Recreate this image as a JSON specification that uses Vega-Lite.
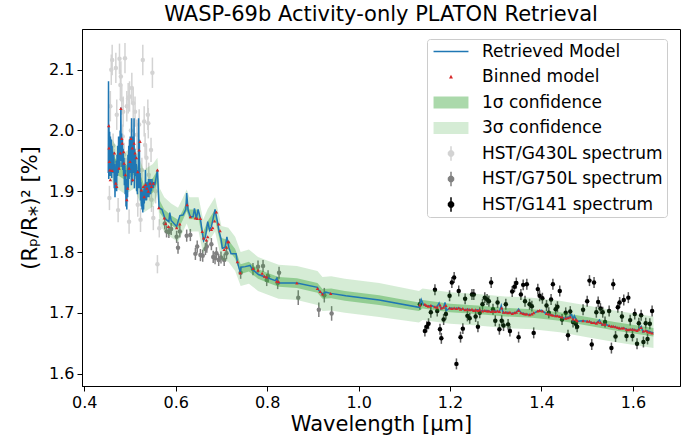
{
  "$schema": "https://vega.github.io/schema/vega-lite/v6.json",
  "width": 598,
  "height": 357,
  "autosize": {"type": "none"},
  "padding": {"left": 82, "top": 29, "right": 13, "bottom": 51},
  "title": {"text": "WASP-69b Activity-only PLATON Retrieval", "fontSize": 21, "font": "DejaVu Sans", "fontWeight": "normal", "anchor": "middle", "frame": "group", "baseline": "bottom", "offset": 3, "dy": 20, "color": "black"},
  "config": {
    "font": "DejaVu Sans",
    "view": {"stroke": "black", "strokeWidth": 1},
    "axis": {"grid": false, "domainColor": "black", "tickColor": "black", "labelColor": "black", "titleColor": "black", "labelFontSize": 16, "titleFontSize": 21, "titleFontWeight": "normal", "labelFont": "DejaVu Sans", "titleFont": "DejaVu Sans", "tickSize": 5, "labelPadding": 3, "domainWidth": 1, "tickWidth": 1}
  },
  "datasets": {
    "g430": [
      {"w":0.455,"y":1.889,"e":0.02},{"w":0.457,"y":2.040,"e":0.025},{"w":0.459,"y":2.100,"e":0.025},{"w":0.461,"y":2.116,"e":0.025},
      {"w":0.463,"y":1.975,"e":0.02},{"w":0.465,"y":1.950,"e":0.02},{"w":0.469,"y":2.103,"e":0.025},{"w":0.471,"y":2.026,"e":0.025},
      {"w":0.474,"y":1.869,"e":0.02},{"w":0.477,"y":2.118,"e":0.025},{"w":0.479,"y":2.075,"e":0.025},{"w":0.480,"y":2.089,"e":0.025},
      {"w":0.482,"y":2.051,"e":0.025},{"w":0.484,"y":1.990,"e":0.02},{"w":0.485,"y":2.031,"e":0.025},{"w":0.487,"y":1.960,"e":0.02},
      {"w":0.489,"y":2.119,"e":0.025},{"w":0.491,"y":1.935,"e":0.02},{"w":0.493,"y":2.040,"e":0.025},{"w":0.496,"y":2.053,"e":0.025},
      {"w":0.498,"y":1.850,"e":0.02},{"w":0.499,"y":2.056,"e":0.025},{"w":0.502,"y":2.000,"e":0.02},{"w":0.504,"y":2.070,"e":0.025},
      {"w":0.507,"y":2.045,"e":0.025},{"w":0.509,"y":1.960,"e":0.02},{"w":0.511,"y":2.031,"e":0.025},{"w":0.513,"y":1.940,"e":0.02},
      {"w":0.515,"y":1.993,"e":0.025},{"w":0.517,"y":1.878,"e":0.02},{"w":0.520,"y":2.010,"e":0.025},{"w":0.523,"y":1.853,"e":0.02},
      {"w":0.526,"y":1.935,"e":0.02},{"w":0.528,"y":2.116,"e":0.025},{"w":0.531,"y":2.015,"e":0.025},{"w":0.533,"y":1.976,"e":0.02},
      {"w":0.536,"y":1.955,"e":0.02},{"w":0.539,"y":2.026,"e":0.025},{"w":0.540,"y":2.012,"e":0.025},{"w":0.541,"y":1.927,"e":0.02},
      {"w":0.543,"y":1.905,"e":0.02},{"w":0.546,"y":1.968,"e":0.02},{"w":0.547,"y":1.886,"e":0.02},{"w":0.549,"y":2.095,"e":0.025},
      {"w":0.551,"y":1.856,"e":0.02},{"w":0.556,"y":1.900,"e":0.02},{"w":0.560,"y":1.780,"e":0.015},{"w":0.564,"y":1.839,"e":0.015}
    ],
    "g750": [
      {"w":0.576,"y":1.847,"e":0.01},{"w":0.580,"y":1.834,"e":0.01},{"w":0.585,"y":1.833,"e":0.01},{"w":0.590,"y":1.838,"e":0.01},
      {"w":0.602,"y":1.825,"e":0.01},{"w":0.605,"y":1.807,"e":0.01},{"w":0.609,"y":1.834,"e":0.01},{"w":0.624,"y":1.827,"e":0.01},
      {"w":0.632,"y":1.828,"e":0.01},{"w":0.643,"y":1.797,"e":0.01},{"w":0.647,"y":1.809,"e":0.01},{"w":0.654,"y":1.795,"e":0.01},
      {"w":0.659,"y":1.794,"e":0.01},{"w":0.665,"y":1.805,"e":0.01},{"w":0.668,"y":1.809,"e":0.01},{"w":0.678,"y":1.813,"e":0.01},
      {"w":0.682,"y":1.792,"e":0.01},{"w":0.686,"y":1.790,"e":0.01},{"w":0.689,"y":1.798,"e":0.01},{"w":0.694,"y":1.787,"e":0.01},
      {"w":0.699,"y":1.791,"e":0.01},{"w":0.706,"y":1.787,"e":0.01},{"w":0.711,"y":1.798,"e":0.01},{"w":0.742,"y":1.766,"e":0.01},
      {"w":0.769,"y":1.772,"e":0.01},{"w":0.780,"y":1.776,"e":0.01},{"w":0.791,"y":1.777,"e":0.01},{"w":0.799,"y":1.754,"e":0.01},
      {"w":0.802,"y":1.760,"e":0.01},{"w":0.823,"y":1.749,"e":0.01},{"w":0.826,"y":1.766,"e":0.01},{"w":0.868,"y":1.725,"e":0.012},
      {"w":0.913,"y":1.705,"e":0.012},{"w":0.925,"y":1.729,"e":0.012},{"w":0.941,"y":1.699,"e":0.012}
    ],
    "g141": [
      {"w":1.134,"y":1.714,"e":0.009,"m":1.713},{"w":1.145,"y":1.670,"e":0.009,"m":1.714},{"w":1.149,"y":1.677,"e":0.009,"m":1.712},
      {"w":1.153,"y":1.682,"e":0.009,"m":1.711},{"w":1.158,"y":1.701,"e":0.009,"m":1.712},{"w":1.167,"y":1.738,"e":0.009,"m":1.710},
      {"w":1.172,"y":1.703,"e":0.009,"m":1.709},{"w":1.178,"y":1.673,"e":0.009,"m":1.713},{"w":1.181,"y":1.658,"e":0.009,"m":1.708},
      {"w":1.186,"y":1.689,"e":0.009,"m":1.709},{"w":1.191,"y":1.698,"e":0.009,"m":1.712},{"w":1.199,"y":1.728,"e":0.009,"m":1.708},
      {"w":1.204,"y":1.750,"e":0.009,"m":1.707},{"w":1.209,"y":1.758,"e":0.009,"m":1.708},{"w":1.214,"y":1.616,"e":0.009,"m":1.707},
      {"w":1.219,"y":1.736,"e":0.009,"m":1.708},{"w":1.223,"y":1.660,"e":0.009,"m":1.706},{"w":1.228,"y":1.674,"e":0.009,"m":1.707},
      {"w":1.233,"y":1.723,"e":0.009,"m":1.705},{"w":1.238,"y":1.695,"e":0.009,"m":1.706},{"w":1.243,"y":1.691,"e":0.009,"m":1.705},
      {"w":1.248,"y":1.730,"e":0.009,"m":1.706},{"w":1.252,"y":1.730,"e":0.009,"m":1.704},{"w":1.256,"y":1.694,"e":0.009,"m":1.705},
      {"w":1.261,"y":1.677,"e":0.009,"m":1.704},{"w":1.265,"y":1.700,"e":0.009,"m":1.705},{"w":1.271,"y":1.714,"e":0.009,"m":1.703},
      {"w":1.276,"y":1.725,"e":0.009,"m":1.704},{"w":1.281,"y":1.722,"e":0.009,"m":1.703},{"w":1.285,"y":1.719,"e":0.009,"m":1.703},
      {"w":1.290,"y":1.750,"e":0.009,"m":1.702},{"w":1.294,"y":1.706,"e":0.009,"m":1.703},{"w":1.299,"y":1.687,"e":0.009,"m":1.702},
      {"w":1.304,"y":1.717,"e":0.009,"m":1.703},{"w":1.308,"y":1.673,"e":0.009,"m":1.702},{"w":1.313,"y":1.687,"e":0.009,"m":1.708},
      {"w":1.317,"y":1.679,"e":0.009,"m":1.701},{"w":1.322,"y":1.714,"e":0.009,"m":1.701},{"w":1.327,"y":1.681,"e":0.009,"m":1.700},
      {"w":1.331,"y":1.670,"e":0.009,"m":1.701},{"w":1.336,"y":1.735,"e":0.009,"m":1.699},{"w":1.341,"y":1.743,"e":0.009,"m":1.700},
      {"w":1.345,"y":1.749,"e":0.009,"m":1.701},{"w":1.350,"y":1.660,"e":0.009,"m":1.704},{"w":1.355,"y":1.730,"e":0.009,"m":1.700},
      {"w":1.360,"y":1.746,"e":0.009,"m":1.699},{"w":1.364,"y":1.719,"e":0.009,"m":1.698},{"w":1.368,"y":1.747,"e":0.009,"m":1.698},
      {"w":1.374,"y":1.714,"e":0.009,"m":1.697},{"w":1.379,"y":1.711,"e":0.009,"m":1.698},{"w":1.383,"y":1.667,"e":0.009,"m":1.700},
      {"w":1.392,"y":1.739,"e":0.009,"m":1.703},{"w":1.396,"y":1.728,"e":0.009,"m":1.704},{"w":1.402,"y":1.724,"e":0.009,"m":1.703},
      {"w":1.411,"y":1.712,"e":0.009,"m":1.699},{"w":1.416,"y":1.700,"e":0.009,"m":1.698},{"w":1.421,"y":1.722,"e":0.009,"m":1.697},
      {"w":1.425,"y":1.747,"e":0.009,"m":1.696},{"w":1.431,"y":1.706,"e":0.009,"m":1.695},{"w":1.435,"y":1.710,"e":0.009,"m":1.695},
      {"w":1.440,"y":1.736,"e":0.009,"m":1.694},{"w":1.445,"y":1.689,"e":0.009,"m":1.693},{"w":1.453,"y":1.700,"e":0.009,"m":1.691},
      {"w":1.458,"y":1.663,"e":0.009,"m":1.692},{"w":1.463,"y":1.702,"e":0.009,"m":1.693},{"w":1.469,"y":1.685,"e":0.009,"m":1.690},
      {"w":1.475,"y":1.682,"e":0.009,"m":1.689},{"w":1.478,"y":1.677,"e":0.009,"m":1.687},{"w":1.491,"y":1.705,"e":0.009,"m":1.687},
      {"w":1.500,"y":1.719,"e":0.009,"m":1.686},{"w":1.505,"y":1.753,"e":0.009,"m":1.686},{"w":1.510,"y":1.648,"e":0.009,"m":1.684},
      {"w":1.515,"y":1.750,"e":0.009,"m":1.684},{"w":1.520,"y":1.701,"e":0.009,"m":1.683},{"w":1.524,"y":1.718,"e":0.009,"m":1.685},
      {"w":1.529,"y":1.707,"e":0.009,"m":1.684},{"w":1.534,"y":1.701,"e":0.009,"m":1.681},{"w":1.539,"y":1.685,"e":0.009,"m":1.681},
      {"w":1.548,"y":1.703,"e":0.009,"m":1.679},{"w":1.553,"y":1.642,"e":0.009,"m":1.678},{"w":1.557,"y":1.747,"e":0.009,"m":1.678},
      {"w":1.562,"y":1.661,"e":0.009,"m":1.677},{"w":1.567,"y":1.709,"e":0.009,"m":1.676},{"w":1.571,"y":1.717,"e":0.009,"m":1.675},
      {"w":1.576,"y":1.694,"e":0.009,"m":1.675},{"w":1.580,"y":1.721,"e":0.009,"m":1.675},{"w":1.586,"y":1.662,"e":0.009,"m":1.673},
      {"w":1.590,"y":1.725,"e":0.009,"m":1.672},{"w":1.594,"y":1.688,"e":0.009,"m":1.673},{"w":1.599,"y":1.662,"e":0.009,"m":1.673},
      {"w":1.604,"y":1.698,"e":0.009,"m":1.672},{"w":1.609,"y":1.649,"e":0.009,"m":1.671},{"w":1.613,"y":1.683,"e":0.009,"m":1.673},
      {"w":1.618,"y":1.696,"e":0.009,"m":1.676},{"w":1.623,"y":1.652,"e":0.009,"m":1.670},{"w":1.628,"y":1.683,"e":0.009,"m":1.671},
      {"w":1.632,"y":1.657,"e":0.009,"m":1.669},{"w":1.637,"y":1.682,"e":0.009,"m":1.668},{"w":1.642,"y":1.703,"e":0.009,"m":1.667}
    ],
    "bands": [
      {"w":0.452,"lo3":1.925,"lo1":1.948,"hi1":1.972,"hi3":1.995},{"w":0.47,"lo3":1.905,"lo1":1.928,"hi1":1.952,"hi3":1.975},
      {"w":0.49,"lo3":1.895,"lo1":1.918,"hi1":1.942,"hi3":1.965},{"w":0.51,"lo3":1.905,"lo1":1.928,"hi1":1.952,"hi3":1.975},
      {"w":0.53,"lo3":1.865,"lo1":1.888,"hi1":1.912,"hi3":1.935},{"w":0.55,"lo3":1.875,"lo1":1.898,"hi1":1.922,"hi3":1.945},
      {"w":0.56,"lo3":1.895,"lo1":1.915,"hi1":1.935,"hi3":1.955},{"w":0.565,"lo3":1.845,"lo1":1.865,"hi1":1.885,"hi3":1.905},
      {"w":0.575,"lo3":1.834,"lo1":1.854,"hi1":1.870,"hi3":1.890},{"w":0.59,"lo3":1.824,"lo1":1.844,"hi1":1.860,"hi3":1.880},
      {"w":0.605,"lo3":1.817,"lo1":1.837,"hi1":1.853,"hi3":1.873},{"w":0.615,"lo3":1.832,"lo1":1.852,"hi1":1.868,"hi3":1.888},
      {"w":0.624,"lo3":1.847,"lo1":1.867,"hi1":1.883,"hi3":1.903},{"w":0.63,"lo3":1.834,"lo1":1.854,"hi1":1.870,"hi3":1.890},
      {"w":0.64,"lo3":1.834,"lo1":1.854,"hi1":1.870,"hi3":1.890},{"w":0.65,"lo3":1.834,"lo1":1.854,"hi1":1.870,"hi3":1.890},
      {"w":0.66,"lo3":1.797,"lo1":1.817,"hi1":1.833,"hi3":1.853},{"w":0.67,"lo3":1.815,"lo1":1.835,"hi1":1.851,"hi3":1.871},
      {"w":0.686,"lo3":1.834,"lo1":1.854,"hi1":1.870,"hi3":1.890},{"w":0.70,"lo3":1.787,"lo1":1.807,"hi1":1.823,"hi3":1.843},
      {"w":0.715,"lo3":1.784,"lo1":1.804,"hi1":1.820,"hi3":1.840},{"w":0.73,"lo3":1.769,"lo1":1.789,"hi1":1.805,"hi3":1.825},
      {"w":0.742,"lo3":1.744,"lo1":1.764,"hi1":1.780,"hi3":1.800},{"w":0.76,"lo3":1.748,"lo1":1.768,"hi1":1.784,"hi3":1.804},
      {"w":0.78,"lo3":1.736,"lo1":1.756,"hi1":1.772,"hi3":1.792},{"w":0.80,"lo3":1.730,"lo1":1.750,"hi1":1.766,"hi3":1.786},
      {"w":0.825,"lo3":1.723,"lo1":1.743,"hi1":1.759,"hi3":1.779},{"w":0.865,"lo3":1.721,"lo1":1.741,"hi1":1.757,"hi3":1.777},
      {"w":0.91,"lo3":1.713,"lo1":1.733,"hi1":1.749,"hi3":1.769},{"w":0.921,"lo3":1.703,"lo1":1.723,"hi1":1.739,"hi3":1.759},
      {"w":0.94,"lo3":1.704,"lo1":1.724,"hi1":1.740,"hi3":1.760},{"w":0.97,"lo3":1.700,"lo1":1.720,"hi1":1.736,"hi3":1.756},
      {"w":1.045,"lo3":1.693,"lo1":1.713,"hi1":1.729,"hi3":1.749},{"w":1.132,"lo3":1.684,"lo1":1.703,"hi1":1.717,"hi3":1.736},
      {"w":1.14,"lo3":1.688,"lo1":1.707,"hi1":1.721,"hi3":1.740},{"w":1.20,"lo3":1.682,"lo1":1.701,"hi1":1.715,"hi3":1.734},
      {"w":1.26,"lo3":1.679,"lo1":1.698,"hi1":1.712,"hi3":1.731},{"w":1.32,"lo3":1.675,"lo1":1.694,"hi1":1.708,"hi3":1.727},
      {"w":1.38,"lo3":1.673,"lo1":1.692,"hi1":1.706,"hi3":1.725},{"w":1.44,"lo3":1.668,"lo1":1.687,"hi1":1.701,"hi3":1.720},
      {"w":1.50,"lo3":1.660,"lo1":1.679,"hi1":1.693,"hi3":1.712},{"w":1.56,"lo3":1.652,"lo1":1.671,"hi1":1.685,"hi3":1.704},
      {"w":1.62,"lo3":1.645,"lo1":1.664,"hi1":1.678,"hi3":1.697},{"w":1.645,"lo3":1.642,"lo1":1.661,"hi1":1.675,"hi3":1.694}
    ],
    "model": [
      {"w":0.4525,"y":1.93},{"w":0.4530,"y":2.081},{"w":0.4535,"y":1.92},{"w":0.4540,"y":2.01},{"w":0.4550,"y":1.935},{"w":0.4555,"y":1.998},
      {"w":0.4565,"y":1.925},{"w":0.4572,"y":1.99},{"w":0.4580,"y":1.93},{"w":0.4590,"y":1.985},{"w":0.4600,"y":1.922},{"w":0.4608,"y":1.975},
      {"w":0.4618,"y":1.94},{"w":0.4626,"y":1.965},{"w":0.4635,"y":1.93},{"w":0.4645,"y":1.96},{"w":0.4655,"y":1.905},{"w":0.4662,"y":1.945},
      {"w":0.4672,"y":1.89},{"w":0.4680,"y":1.94},{"w":0.4690,"y":1.905},{"w":0.4698,"y":1.95},{"w":0.4708,"y":1.90},{"w":0.4716,"y":1.96},
      {"w":0.4725,"y":1.925},{"w":0.4733,"y":1.975},{"w":0.4742,"y":1.93},{"w":0.4750,"y":1.99},{"w":0.4760,"y":1.935},{"w":0.4768,"y":1.985},
      {"w":0.4776,"y":1.94},{"w":0.4784,"y":2.000},{"w":0.4792,"y":1.95},{"w":0.4800,"y":2.038},{"w":0.4808,"y":1.955},{"w":0.4816,"y":1.995},
      {"w":0.4825,"y":1.94},{"w":0.4833,"y":1.985},{"w":0.4842,"y":1.935},{"w":0.4850,"y":1.97},{"w":0.4860,"y":1.925},{"w":0.4868,"y":1.955},
      {"w":0.4877,"y":1.91},{"w":0.4885,"y":1.945},{"w":0.4895,"y":1.895},{"w":0.4903,"y":1.935},{"w":0.4912,"y":1.875},{"w":0.4920,"y":1.92},
      {"w":0.4930,"y":1.87},{"w":0.4938,"y":1.915},{"w":0.4947,"y":1.89},{"w":0.4955,"y":1.96},{"w":0.4963,"y":1.905},{"w":0.4972,"y":1.975},
      {"w":0.4980,"y":1.92},{"w":0.4988,"y":1.985},{"w":0.4997,"y":1.93},{"w":0.5005,"y":1.99},{"w":0.5013,"y":1.94},{"w":0.5021,"y":1.98},
      {"w":0.5030,"y":1.91},{"w":0.5038,"y":2.02},{"w":0.5046,"y":1.915},{"w":0.5055,"y":1.99},{"w":0.5063,"y":1.93},{"w":0.5071,"y":1.985},
      {"w":0.5080,"y":1.94},{"w":0.5088,"y":2.02},{"w":0.5096,"y":1.905},{"w":0.5105,"y":1.97},{"w":0.5113,"y":1.93},{"w":0.5121,"y":1.96},
      {"w":0.5130,"y":1.925},{"w":0.5138,"y":1.945},{"w":0.5147,"y":1.90},{"w":0.5155,"y":1.935},{"w":0.5163,"y":1.895},{"w":0.5172,"y":1.93},
      {"w":0.5180,"y":1.905},{"w":0.5188,"y":2.02},{"w":0.5197,"y":1.92},{"w":0.5205,"y":1.985},{"w":0.5213,"y":1.905},{"w":0.5222,"y":1.93},
      {"w":0.5230,"y":1.885},{"w":0.5238,"y":1.915},{"w":0.5247,"y":1.875},{"w":0.5255,"y":1.905},{"w":0.5263,"y":1.87},{"w":0.5272,"y":1.90},
      {"w":0.5280,"y":1.865},{"w":0.5288,"y":1.895},{"w":0.5297,"y":1.87},{"w":0.5305,"y":1.905},{"w":0.5313,"y":1.88},{"w":0.5322,"y":1.91},
      {"w":0.5330,"y":1.885},{"w":0.5338,"y":1.935},{"w":0.5347,"y":1.89},{"w":0.5355,"y":1.915},{"w":0.5363,"y":1.885},{"w":0.5372,"y":1.91},
      {"w":0.5380,"y":1.89},{"w":0.5388,"y":1.915},{"w":0.5397,"y":1.895},{"w":0.5405,"y":1.92},{"w":0.5413,"y":1.89},{"w":0.5422,"y":1.915},
      {"w":0.5430,"y":1.895},{"w":0.5440,"y":1.92},{"w":0.5450,"y":1.895},{"w":0.5460,"y":1.915},{"w":0.5470,"y":1.90},{"w":0.5480,"y":1.92},
      {"w":0.5490,"y":1.905},{"w":0.5500,"y":1.915},{"w":0.5510,"y":1.905},{"w":0.5520,"y":1.915},{"w":0.5540,"y":1.91},{"w":0.5560,"y":1.918},
      {"w":0.5600,"y":1.935},{"w":0.5635,"y":1.873},{"w":0.5700,"y":1.870},{"w":0.5760,"y":1.856},{"w":0.5800,"y":1.853},{"w":0.5850,"y":1.850},
      {"w":0.5870,"y":1.865},{"w":0.5900,"y":1.852},{"w":0.6020,"y":1.842},{"w":0.6090,"y":1.860},{"w":0.6160,"y":1.861},{"w":0.6220,"y":1.870},
      {"w":0.6240,"y":1.897},{"w":0.6270,"y":1.869},{"w":0.6320,"y":1.858},{"w":0.6380,"y":1.858},{"w":0.6410,"y":1.872},{"w":0.6450,"y":1.855},
      {"w":0.6490,"y":1.870},{"w":0.6540,"y":1.855},{"w":0.6580,"y":1.833},{"w":0.6610,"y":1.819},{"w":0.6650,"y":1.825},{"w":0.6700,"y":1.850},
      {"w":0.6740,"y":1.836},{"w":0.6780,"y":1.842},{"w":0.6810,"y":1.852},{"w":0.6860,"y":1.870},{"w":0.6920,"y":1.847},{"w":0.6950,"y":1.833},
      {"w":0.6990,"y":1.822},{"w":0.7020,"y":1.806},{"w":0.7080,"y":1.808},{"w":0.7120,"y":1.825},{"w":0.7160,"y":1.808},{"w":0.7210,"y":1.797},
      {"w":0.7320,"y":1.797},{"w":0.7350,"y":1.783},{"w":0.7410,"y":1.767},{"w":0.7430,"y":1.775},{"w":0.7520,"y":1.776},{"w":0.7630,"y":1.778},
      {"w":0.7670,"y":1.772},{"w":0.7810,"y":1.763},{"w":0.7990,"y":1.758},{"w":0.8180,"y":1.753},{"w":0.8210,"y":1.757},{"w":0.8250,"y":1.749},
      {"w":0.8650,"y":1.749},{"w":0.9100,"y":1.742},{"w":0.9130,"y":1.737},{"w":0.9210,"y":1.731},{"w":0.9280,"y":1.734},{"w":0.9390,"y":1.732},
      {"w":0.9720,"y":1.728},{"w":1.0450,"y":1.721},{"w":1.1320,"y":1.709},{"w":1.1370,"y":1.722},{"w":1.1420,"y":1.713},{"w":1.1500,"y":1.711},
      {"w":1.1600,"y":1.712},{"w":1.1700,"y":1.708},{"w":1.1760,"y":1.716},{"w":1.1800,"y":1.706},{"w":1.1860,"y":1.709},{"w":1.1890,"y":1.717},
      {"w":1.1920,"y":1.704},{"w":1.2000,"y":1.708},{"w":1.2100,"y":1.707},{"w":1.2200,"y":1.708},{"w":1.2300,"y":1.705},{"w":1.2400,"y":1.706},
      {"w":1.2500,"y":1.704},{"w":1.2600,"y":1.705},{"w":1.2700,"y":1.703},{"w":1.2800,"y":1.704},{"w":1.2900,"y":1.702},{"w":1.3000,"y":1.703},
      {"w":1.3080,"y":1.702},{"w":1.3120,"y":1.712},{"w":1.3160,"y":1.700},{"w":1.3250,"y":1.701},{"w":1.3350,"y":1.699},{"w":1.3450,"y":1.701},
      {"w":1.3500,"y":1.706},{"w":1.3550,"y":1.700},{"w":1.3650,"y":1.698},{"w":1.3750,"y":1.697},{"w":1.3850,"y":1.700},{"w":1.3920,"y":1.703},
      {"w":1.4000,"y":1.704},{"w":1.4100,"y":1.699},{"w":1.4200,"y":1.697},{"w":1.4300,"y":1.695},{"w":1.4400,"y":1.694},{"w":1.4500,"y":1.691},
      {"w":1.4600,"y":1.693},{"w":1.4660,"y":1.697},{"w":1.4690,"y":1.688},{"w":1.4720,"y":1.695},{"w":1.4780,"y":1.686},{"w":1.4900,"y":1.687},
      {"w":1.5000,"y":1.686},{"w":1.5100,"y":1.684},{"w":1.5200,"y":1.683},{"w":1.5270,"y":1.688},{"w":1.5320,"y":1.680},{"w":1.5400,"y":1.681},
      {"w":1.5500,"y":1.678},{"w":1.5600,"y":1.677},{"w":1.5700,"y":1.674},{"w":1.5800,"y":1.675},{"w":1.5900,"y":1.672},{"w":1.6000,"y":1.673},
      {"w":1.6100,"y":1.671},{"w":1.6180,"y":1.678},{"w":1.6220,"y":1.668},{"w":1.6300,"y":1.671},{"w":1.6400,"y":1.668},{"w":1.6450,"y":1.667}
    ],
    "binned": [
      {"w":0.4535,"y":2.008},{"w":0.454,"y":1.971},{"w":0.455,"y":1.949},{"w":0.456,"y":1.935},{"w":0.457,"y":1.919},{"w":0.461,"y":1.934},
      {"w":0.466,"y":1.963},{"w":0.469,"y":1.913},{"w":0.471,"y":1.908},{"w":0.476,"y":1.938},{"w":0.479,"y":1.963},{"w":0.480,"y":2.036},
      {"w":0.482,"y":1.987},{"w":0.483,"y":1.979},{"w":0.486,"y":1.965},{"w":0.487,"y":1.946},{"w":0.490,"y":1.927},{"w":0.493,"y":1.886},
      {"w":0.495,"y":1.905},{"w":0.498,"y":1.938},{"w":0.500,"y":1.949},{"w":0.502,"y":1.987},{"w":0.505,"y":1.971},{"w":0.506,"y":1.919},
      {"w":0.509,"y":1.979},{"w":0.511,"y":1.963},{"w":0.514,"y":1.955},{"w":0.517,"y":1.932},{"w":0.520,"y":1.968},{"w":0.522,"y":1.982},
      {"w":0.525,"y":1.902},{"w":0.529,"y":1.908},{"w":0.531,"y":1.891},{"w":0.534,"y":1.911},{"w":0.537,"y":1.905},{"w":0.540,"y":1.900},
      {"w":0.544,"y":1.913},{"w":0.547,"y":1.908},{"w":0.551,"y":1.913},{"w":0.560,"y":1.935},{"w":0.563,"y":1.873},{"w":0.575,"y":1.856},
      {"w":0.578,"y":1.847},{"w":0.584,"y":1.842},{"w":0.602,"y":1.840},{"w":0.609,"y":1.846},{"w":0.625,"y":1.878},{"w":0.632,"y":1.858},
      {"w":0.643,"y":1.856},{"w":0.647,"y":1.855},{"w":0.654,"y":1.855},{"w":0.658,"y":1.834},{"w":0.661,"y":1.823},{"w":0.667,"y":1.820},
      {"w":0.670,"y":1.825},{"w":0.678,"y":1.837},{"w":0.681,"y":1.840},{"w":0.685,"y":1.851},{"w":0.689,"y":1.866},{"w":0.694,"y":1.846},
      {"w":0.697,"y":1.835},{"w":0.706,"y":1.804},{"w":0.711,"y":1.808},{"w":0.714,"y":1.817},{"w":0.716,"y":1.817},{"w":0.735,"y":1.784},
      {"w":0.741,"y":1.766},{"w":0.769,"y":1.773},{"w":0.780,"y":1.770},{"w":0.789,"y":1.765},{"w":0.794,"y":1.760},{"w":0.799,"y":1.759},
      {"w":0.821,"y":1.752},{"w":0.825,"y":1.751},{"w":0.865,"y":1.749},{"w":0.910,"y":1.740},{"w":0.916,"y":1.735},{"w":0.921,"y":1.731},
      {"w":0.939,"y":1.732}
    ]
  },
  "layer": [
    {
      "data": {"name": "g430"},
      "mark": {"type": "errorbar", "ticks": false, "thickness": 1.5, "color": "#d3d3d3"},
      "encoding": {
        "x": {"field": "w", "type": "quantitative", "title": "Wavelength [μm]", "scale": {"domain": [0.395, 1.703], "nice": false, "zero": false}, "axis": {"orient": "bottom", "values": [0.4, 0.6, 0.8, 1.0, 1.2, 1.4, 1.6], "format": ".1f", "titlePadding": 3}},
        "y": {"field": "y", "type": "quantitative", "title": "(Rₚ/R⁎)² [%]", "scale": {"domain": [1.5796, 2.167], "nice": false, "zero": false}, "axis": {"orient": "left", "values": [1.6, 1.7, 1.8, 1.9, 2.0, 2.1], "format": ".1f", "titlePadding": 8}},
        "yError": {"field": "e"}
      }
    },
    {
      "data": {"name": "g430"},
      "mark": {"type": "point", "filled": true, "size": 20, "color": "#d3d3d3", "opacity": 1},
      "encoding": {"x": {"field": "w", "type": "quantitative", "title": "Wavelength [μm]"}, "y": {"field": "y", "type": "quantitative", "title": "(Rₚ/R⁎)² [%]"}}
    },
    {
      "data": {"name": "g750"},
      "mark": {"type": "errorbar", "ticks": false, "thickness": 1.5, "color": "#808080"},
      "encoding": {"x": {"field": "w", "type": "quantitative", "title": "Wavelength [μm]"}, "y": {"field": "y", "type": "quantitative", "title": "(Rₚ/R⁎)² [%]"}, "yError": {"field": "e"}}
    },
    {
      "data": {"name": "g750"},
      "mark": {"type": "point", "filled": true, "size": 20, "color": "#808080", "opacity": 1},
      "encoding": {"x": {"field": "w", "type": "quantitative", "title": "Wavelength [μm]"}, "y": {"field": "y", "type": "quantitative", "title": "(Rₚ/R⁎)² [%]"}}
    },
    {
      "data": {"name": "g141"},
      "mark": {"type": "errorbar", "ticks": false, "thickness": 1.5, "color": "#5a5a5a"},
      "encoding": {"x": {"field": "w", "type": "quantitative", "title": "Wavelength [μm]"}, "y": {"field": "y", "type": "quantitative", "title": "(Rₚ/R⁎)² [%]"}, "yError": {"field": "e"}}
    },
    {
      "data": {"name": "g141"},
      "mark": {"type": "point", "filled": true, "size": 20, "color": "#000000", "opacity": 1},
      "encoding": {"x": {"field": "w", "type": "quantitative", "title": "Wavelength [μm]"}, "y": {"field": "y", "type": "quantitative", "title": "(Rₚ/R⁎)² [%]"}}
    },
    {
      "data": {"name": "bands"},
      "mark": {"type": "area", "color": "#2ca02c", "opacity": 0.2},
      "encoding": {"x": {"field": "w", "type": "quantitative", "title": "Wavelength [μm]"}, "y": {"field": "lo3", "type": "quantitative", "title": "(Rₚ/R⁎)² [%]"}, "y2": {"field": "hi3"}}
    },
    {
      "data": {"name": "bands"},
      "mark": {"type": "area", "color": "#2ca02c", "opacity": 0.4},
      "encoding": {"x": {"field": "w", "type": "quantitative", "title": "Wavelength [μm]"}, "y": {"field": "lo1", "type": "quantitative", "title": "(Rₚ/R⁎)² [%]"}, "y2": {"field": "hi1"}}
    },
    {
      "data": {"name": "model"},
      "mark": {"type": "line", "strokeWidth": 1.5},
      "encoding": {
        "x": {"field": "w", "type": "quantitative", "title": "Wavelength [μm]"},
        "y": {"field": "y", "type": "quantitative", "title": "(Rₚ/R⁎)² [%]"},
        "color": {
          "datum": "Retrieved Model",
          "scale": {
            "domain": ["Retrieved Model", "Binned model", "1σ confidence", "3σ confidence", "HST/G430L spectrum", "HST/G750L spectrum", "HST/G141 spectrum"],
            "range": ["#1f77b4", "#d62728", "#abd9ab", "#d5ecd5", "#d3d3d3", "#808080", "#000000"]
          },
          "legend": {
            "title": null, "orient": "none", "legendX": 345, "legendY": 10, "direction": "vertical",
            "padding": 4, "fillColor": "rgba(255,255,255,0.8)", "strokeColor": "#cccccc", "cornerRadius": 3,
            "labelFontSize": 17, "labelFont": "DejaVu Sans", "labelColor": "black", "labelLimit": 300,
            "symbolSize": 324, "symbolOffset": 11.5, "labelOffset": 22.5, "rowPadding": 7.5,
            "encode": {
              "symbols": {
                "update": {
                  "shape": {"signal": "datum.value == 'Retrieved Model' ? 'M-1.94,0H1.94' : (datum.value == 'Binned model' ? 'M0,-0.25L0.22,0.17L-0.22,0.17Z' : (datum.value == '1σ confidence' || datum.value == '3σ confidence' ? 'M-1.94,-0.67H1.94V0.67H-1.94Z' : 'M0,-0.8V0.8M-0.28,-0.12L-0.12,-0.28L0.12,-0.28L0.28,-0.12L0.28,0.12L0.12,0.28L-0.12,0.28L-0.28,0.12Z'))"},
                  "fill": {"signal": "datum.value == 'Retrieved Model' ? '#1f77b4' : (datum.value == 'Binned model' ? '#d62728' : (datum.value == '1σ confidence' ? '#abd9ab' : (datum.value == '3σ confidence' ? '#d5ecd5' : (datum.value == 'HST/G430L spectrum' ? '#d3d3d3' : (datum.value == 'HST/G750L spectrum' ? '#808080' : '#000000')))))"},
                  "stroke": {"signal": "datum.value == 'Retrieved Model' ? '#1f77b4' : (datum.value == 'HST/G430L spectrum' ? '#d3d3d3' : (datum.value == 'HST/G750L spectrum' ? '#808080' : '#000000'))"},
                  "strokeWidth": {"signal": "datum.value == 'Retrieved Model' || datum.value == 'HST/G430L spectrum' || datum.value == 'HST/G750L spectrum' || datum.value == 'HST/G141 spectrum' ? 1.5 : 0"},
                  "strokeJoin": {"value": "round"},
                  "opacity": {"value": 1}
                }
              }
            }
          }
        }
      }
    },
    {
      "data": {"name": "binned"},
      "mark": {"type": "point", "shape": "triangle-up", "filled": true, "size": 12, "color": "#d62728", "opacity": 1},
      "encoding": {"x": {"field": "w", "type": "quantitative", "title": "Wavelength [μm]"}, "y": {"field": "y", "type": "quantitative", "title": "(Rₚ/R⁎)² [%]"}}
    },
    {
      "data": {"name": "g141"},
      "mark": {"type": "point", "shape": "triangle-up", "filled": true, "size": 12, "color": "#d62728", "opacity": 1},
      "encoding": {"x": {"field": "w", "type": "quantitative", "title": "Wavelength [μm]"}, "y": {"field": "m", "type": "quantitative", "title": "(Rₚ/R⁎)² [%]"}}
    }
  ]
}
